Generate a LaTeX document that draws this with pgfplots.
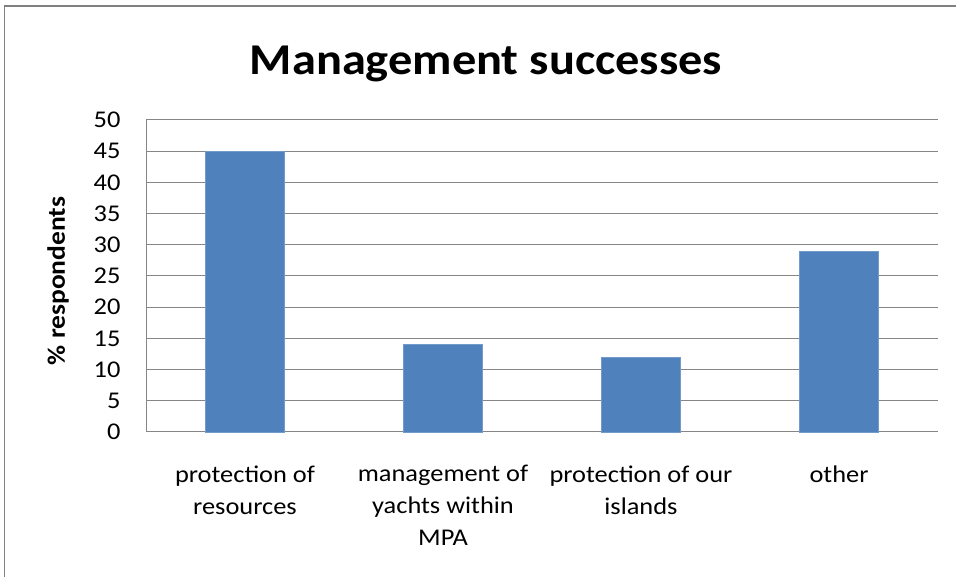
\documentclass[border=0pt]{standalone}
\usepackage{pgfplots}
\pgfplotsset{compat=1.18}
\usepackage{fontspec}
\setmainfont{Carlito}[FakeStretch=1.1]
\definecolor{barblue}{RGB}{79,129,189}
\definecolor{gridgray}{RGB}{134,134,134}
\definecolor{framegray}{RGB}{128,128,128}
\begin{document}
\begin{tikzpicture}[x=1pt,y=1pt]
\path[use as bounding box] (0,0) rectangle (956,577);
\draw[framegray, line width=1.5pt] (4.5,0) -- (4.5,571) -- (956,571);
\node[anchor=base, font=\fontsize{44}{48}\selectfont\bfseries] at (486,502) {Management successes};
\node[rotate=90, font=\fontsize{25}{29}\selectfont\bfseries] at (58,296) {\% respondents};
\begin{axis}[at={(146pt,145pt)}, anchor=south west, scale only axis,
  width=792pt, height=312pt,
  ybar, bar width=79pt,
  xmin=-0.5, xmax=3.5, ymin=0, ymax=50,
  ytick={0,5,...,50},
  xtick=data,
  xticklabels={protection of\\resources, management of\\yachts within\\MPA, protection of our\\islands, other},
  axis lines*=left,
  axis line style={-, gridgray, line width=1pt},
  ymajorgrids, grid style={gridgray, line width=1pt},
  major tick length=0,
  /pgf/number format/assume math mode=true,
  tick label style={font=\fontsize{24}{32}\selectfont},
  yticklabel style={xshift=-22pt},
  xticklabel style={align=center, yshift=-30pt},
  clip=false]
\addplot[fill=barblue, draw=barblue!80!white] coordinates {(0,45) (1,14) (2,12) (3,29)};
\end{axis}
\end{tikzpicture}
\end{document}
